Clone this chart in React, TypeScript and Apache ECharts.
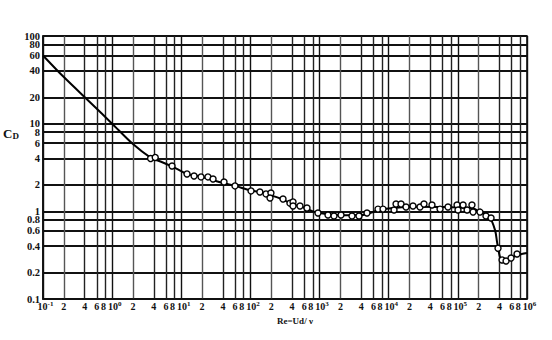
import React, { useEffect, useRef } from 'react';
import * as echarts from 'echarts';

// Tick values (log axes)
const xTicks = [
  0.1, 0.2, 0.4, 0.6, 0.8,
  1, 2, 4, 6, 8,
  10, 20, 40, 60, 80,
  100, 200, 400, 600, 800,
  1000, 2000, 4000, 6000, 8000,
  10000, 20000, 40000, 60000, 80000,
  100000, 200000, 400000, 600000, 800000,
  1000000,
];
const yTicks = [0.1, 0.2, 0.4, 0.6, 0.8, 1, 2, 4, 6, 8, 10, 20, 40, 60, 80, 100];

// Smooth drag curve C_D(Re)
const curveRe = [0.1, 0.2, 0.5, 1, 2, 3.6, 5, 7.3, 10, 12, 20, 40, 60, 100, 137, 200, 270, 413, 600, 950, 2000, 3850, 7500, 13000, 22000, 70000, 166000, 210000, 290000, 345000, 370000, 407000, 450000, 550000, 720000, 1000000];
const curveCd = [60, 34, 17, 10, 5.85, 4.1, 3.7, 3.25, 2.87, 2.67, 2.47, 2.1, 1.95, 1.73, 1.66, 1.52, 1.4, 1.2, 1.1, 0.96, 0.9, 0.9, 1.04, 1.1, 1.13, 1.12, 1.08, 0.98, 0.84, 0.61, 0.44, 0.3, 0.27, 0.285, 0.316, 0.335];

// Measured points
const pointRe = [3.6, 4.2, 7.35, 12.1, 15.3, 19.3, 24.3, 28.8, 41.5, 59.8, 102, 137, 168, 198, 192, 296, 373, 413, 413, 521, 658, 948, 1324, 1617, 2042, 2944, 3717, 4853, 7000, 8272, 11940, 12760, 15070, 17790, 22450, 28360, 32370, 42260, 55200, 72000, 97300, 119000, 160000, 100500, 136000, 166000, 209000, 255000, 302000, 381000, 436000, 498000, 588000, 718000];
const pointCd = [4.0, 4.12, 3.29, 2.67, 2.53, 2.47, 2.47, 2.34, 2.16, 1.95, 1.71, 1.66, 1.58, 1.62, 1.42, 1.38, 1.24, 1.28, 1.15, 1.15, 1.09, 0.957, 0.908, 0.885, 0.908, 0.885, 0.885, 0.957, 1.06, 1.06, 1.035, 1.21, 1.21, 1.12, 1.15, 1.12, 1.21, 1.18, 1.06, 1.12, 1.18, 1.18, 1.18, 1.035, 1.035, 0.98, 0.98, 0.885, 0.84, 0.38, 0.279, 0.271, 0.293, 0.326];

const xAxisName = 'Re=Ud/ ν';
const FONT = '"Liberation Serif", "DejaVu Serif", serif';

function fmtX(v: number): string {
  const e = Math.floor(Math.log10(v) + 1e-4);
  const m = Math.round(v / Math.pow(10, e));
  if (m === 1) return `{p|10}{s|${e}}`;
  if (m === 8) return `{e|8}`;
  return `{n|${m}}`;
}
const fmtY = (v: number) => String(Number(v.toPrecision(3)));

export default function App() {
  const ref = useRef<HTMLDivElement>(null);
  useEffect(() => {
    if (!ref.current) return;
    const chart = echarts.init(ref.current, undefined, { renderer: 'svg' });
    const base = { fontSize: 10, fontWeight: 'bold', fontFamily: FONT, color: '#111', lineHeight: 12 };
    const xRich = {
      n: { ...base },
      e: { ...base, padding: [0, 4, 0, 0] },
      p: { ...base, padding: [0, 0, 0, 5] },
      s: { fontSize: 7, fontWeight: 'bold', fontFamily: FONT, color: '#111', verticalAlign: 'top', lineHeight: 8 },
    };
    const yLabelStyle = {
      margin: 3,
      formatter: fmtY,
      fontSize: 10.5,
      lineHeight: 9,
      fontWeight: 'bold',
      fontFamily: FONT,
      color: '#111',
      hideOverlap: false,
    };
    const xMain = xTicks.slice(0, -1);
    const xLast = xTicks.slice(-1);
    const yMain = yTicks.slice(0, -1);
    const yLast = yTicks.slice(-1);
    chart.setOption({
      animation: false,
      backgroundColor: '#fff',
      grid: { left: 43, right: 25, top: 36, bottom: 41, show: true, borderColor: '#111', borderWidth: 1.6, backgroundColor: 'transparent' },
      xAxis: [
        {
          type: 'log',
          logBase: 10,
          min: 0.1,
          max: 1000000,
          axisLine: { show: true, lineStyle: { color: '#111', width: 1.6 } },
          axisTick: { show: false, customValues: xTicks },
          axisLabel: {
            customValues: xMain,
            hideOverlap: false,
            margin: 1,
            formatter: fmtX,
            rich: xRich,
          },
          splitLine: {
            show: true,
            showMinLine: true,
            showMaxLine: true,
            lineStyle: { color: ['#111', '#555', '#222', '#222', '#222'], width: 1.4 },
          },
        },
        {
          type: 'log',
          logBase: 10,
          min: 0.1,
          max: 1000000,
          position: 'bottom',
          axisLine: { show: false },
          axisTick: { show: false },
          splitLine: { show: false },
          axisLabel: {
            customValues: xLast,
            showMaxLabel: true,
            margin: 1,
            formatter: fmtX,
            rich: xRich,
          },
        },
      ],
      yAxis: [
        {
          type: 'log',
          logBase: 10,
          min: 0.1,
          max: 100,
          axisLine: { show: true, lineStyle: { color: '#111', width: 1.6 } },
          axisTick: { show: false, customValues: yTicks },
          axisLabel: { ...yLabelStyle, customValues: yMain },
          splitLine: {
            show: true,
            showMinLine: true,
            showMaxLine: true,
            lineStyle: { color: '#111', width: 1.8 },
          },
        },
        {
          type: 'log',
          logBase: 10,
          min: 0.1,
          max: 100,
          position: 'left',
          axisLine: { show: false },
          axisTick: { show: false },
          splitLine: { show: false },
          axisLabel: { ...yLabelStyle, customValues: yLast, showMaxLabel: true },
        },
      ],
      graphic: [
        {
          type: 'text',
          left: 3,
          top: 127,
          style: {
            text: '{c|C}{d|D}',
            rich: {
              c: { fontSize: 13, fontWeight: 'bold', fontFamily: FONT, fill: '#111', verticalAlign: 'bottom' },
              d: { fontSize: 9, fontWeight: 'bold', fontFamily: FONT, fill: '#111', verticalAlign: 'bottom' },
            },
          },
        },
        {
          type: 'text',
          left: 277,
          top: 316,
          style: {
            text: xAxisName,
            fontSize: 9,
            fontWeight: 'bold',
            fontFamily: FONT,
            fill: '#111',
          },
        },
      ],
      series: [
        {
          type: 'line',
          data: curveRe.map((r, i) => [r, curveCd[i]]),
          showSymbol: false,
          smooth: 0.3,
          lineStyle: { color: '#000', width: 2 },
          z: 3,
        },
        {
          type: 'scatter',
          data: pointRe.map((r, i) => [r, pointCd[i]]),
          symbol: 'circle',
          symbolSize: 6,
          itemStyle: { color: '#fff', borderColor: '#000', borderWidth: 1.4, opacity: 1 },
          z: 4,
        },
      ],
    });
    return () => chart.dispose();
  }, []);
  return (
    <div
      ref={ref}
      style={{ position: 'absolute', left: 0, top: 0, width: 552, height: 340, background: '#fff' }}
    />
  );
}
